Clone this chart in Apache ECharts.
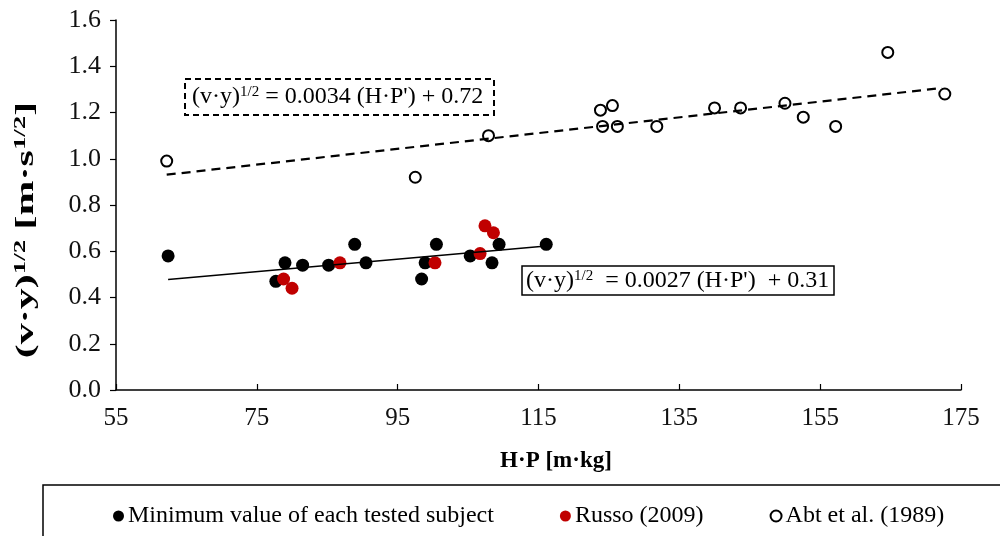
<!DOCTYPE html>
<html>
<head>
<meta charset="utf-8">
<script src="https://cdn.jsdelivr.net/npm/echarts@6/dist/echarts.min.js"></script>
<style>html,body{margin:0;padding:0;background:#fff}#c{width:1000px;height:536px}</style>
</head>
<body>
<div id="c"></div>
<script>
// ---- data ----
const xTicks = [55, 75, 95, 115, 135, 155, 175];
const minX = [62.4, 77.7, 79.0, 81.5, 85.2, 88.9, 90.5, 98.4, 98.9, 100.5, 105.3, 108.4, 109.4, 116.1];
const minY = [0.58, 0.47, 0.55, 0.54, 0.54, 0.63, 0.55, 0.48, 0.55, 0.63, 0.58, 0.55, 0.63, 0.63];
const russoX = [78.8, 80.0, 86.8, 100.3, 106.7, 107.4, 108.6];
const russoY = [0.48, 0.44, 0.55, 0.55, 0.59, 0.71, 0.68];
const abtX = [62.2, 97.5, 107.9, 123.8, 125.5, 124.1, 126.2, 131.8, 140.0, 143.7, 150.0, 152.6, 157.2, 164.6, 172.7];
const abtY = [0.99, 0.92, 1.10, 1.21, 1.23, 1.14, 1.14, 1.14, 1.22, 1.22, 1.24, 1.18, 1.14, 1.46, 1.28];
const fitMinX = [62.4, 116.1];
const fitMinY = [0.478, 0.623];
const fitAbtX = [62.2, 172.3];
const fitAbtY = [0.931, 1.306];
const seriesNames = ['Minimum value of each tested subject', 'Russo (2009)', 'Abt et al. (1989)'];

const FONT = "'Liberation Serif', 'Times New Roman', serif";
const zip = (a, b) => a.map((v, i) => [v, b[i]]);

const chart = echarts.init(document.getElementById('c'), null, {renderer: 'canvas'});
const sup = {fontFamily: FONT, fontSize: 15, verticalAlign: 'top', lineHeight: 24, fill: '#000'};
const base = {fontFamily: FONT, fontSize: 24, lineHeight: 24, fill: '#000'};

chart.setOption({
  animation: false,
  backgroundColor: '#fff',
  grid: {left: 116, right: 39, top: 20, bottom: 146, containLabel: false},
  xAxis: {
    type: 'value', min: 55, max: 175,
    splitLine: {show: false},
    axisLine: {lineStyle: {color: '#000', width: 1.5}},
    axisTick: {inside: true, length: 6, lineStyle: {color: '#000', width: 1.2}, customValues: xTicks},
    axisLabel: {margin: 16, fontFamily: FONT, fontSize: 25, color: '#111', customValues: xTicks}
  },
  yAxis: {
    type: 'value', min: 0, max: 1.6, interval: 0.2,
    splitLine: {show: false},
    axisLine: {show: true, lineStyle: {color: '#000', width: 1.5}},
    axisTick: {show: true, length: 6, lineStyle: {color: '#000', width: 1.2}},
    axisLabel: {margin: 15, fontFamily: FONT, fontSize: 26, color: '#111', formatter: v => v.toFixed(1)}
  },
  legend: {
    data: seriesNames,
    left: 108, top: 499,
    itemWidth: 11, itemHeight: 11, itemGap: 66,
    icon: 'circle',
    textStyle: {fontFamily: FONT, fontSize: 24, color: '#000', padding: [0, 0, 0, -1]}
  },
  series: [
    {name: seriesNames[0], type: 'scatter', data: zip(minX, minY), symbolSize: 13,
     itemStyle: {color: '#000', opacity: 1}, z: 2},
    {name: seriesNames[1], type: 'scatter', data: zip(russoX, russoY), symbolSize: 13,
     itemStyle: {color: '#C00000', opacity: 1}, z: 2},
    {name: seriesNames[2], type: 'scatter', data: zip(abtX, abtY), symbolSize: 11,
     itemStyle: {color: '#fff', borderColor: '#000', borderWidth: 2, opacity: 1}, z: 2},
    {name: 'fitMin', type: 'line', data: zip(fitMinX, fitMinY), showSymbol: false, symbol: 'none',
     lineStyle: {color: '#000', width: 1.5}, z: 3, silent: true},
    {name: 'fitAbt', type: 'line', data: zip(fitAbtX, fitAbtY), showSymbol: false, symbol: 'none',
     lineStyle: {color: '#000', width: 2.2, type: [9, 6]}, z: 3, silent: true}
  ],
  graphic: [
    // legend frame
    {type: 'rect', shape: {x: 43, y: 485, width: 1000, height: 100},
     style: {fill: 'none', stroke: '#000', lineWidth: 1.5}, z: 1},
    // dashed equation box
    {type: 'rect', shape: {x: 185, y: 79, width: 309, height: 36},
     style: {fill: '#fff', stroke: '#000', lineWidth: 2, lineDash: [6, 4]}, z: 10},
    {type: 'text', x: 192, y: 97, z: 11,
     style: {text: '{a|(v·y)}{s|1/2}{a| = 0.0034 (H·P\') + 0.72}', rich: {a: base, s: sup},
             verticalAlign: 'middle', align: 'left'}},
    // solid equation box
    {type: 'rect', shape: {x: 522, y: 266, width: 312, height: 29},
     style: {fill: '#fff', stroke: '#000', lineWidth: 1.5}, z: 10},
    {type: 'text', x: 526, y: 281, z: 11,
     style: {text: '{a|(v·y)}{s|1/2}{a|  = 0.0027 (H·P\')  + 0.31}', rich: {a: base, s: sup},
             verticalAlign: 'middle', align: 'left'}},
    // x axis title
    {type: 'text', x: 556, y: 461, z: 11,
     style: {text: 'H·P [m·kg]', fontFamily: FONT, fontSize: 23, fontWeight: 'bold', fill: '#000',
             align: 'center', verticalAlign: 'middle'}},
    // y axis title
    {type: 'text', x: 27, y: 230, rotation: Math.PI / 2, scaleX: 1.68, z: 11,
     style: {text: '{b|(v·y)}{t|1/2}{b| [m·s}{t|1/2}{b|]}',
             rich: {b: {fontFamily: FONT, fontSize: 25, fontWeight: 'bold', lineHeight: 28, fill: '#000'},
                    t: {fontFamily: FONT, fontSize: 16, fontWeight: 'bold', lineHeight: 28, verticalAlign: 'top', fill: '#000'}},
             align: 'center', verticalAlign: 'middle'}}
  ]
});
</script>
</body>
</html>
